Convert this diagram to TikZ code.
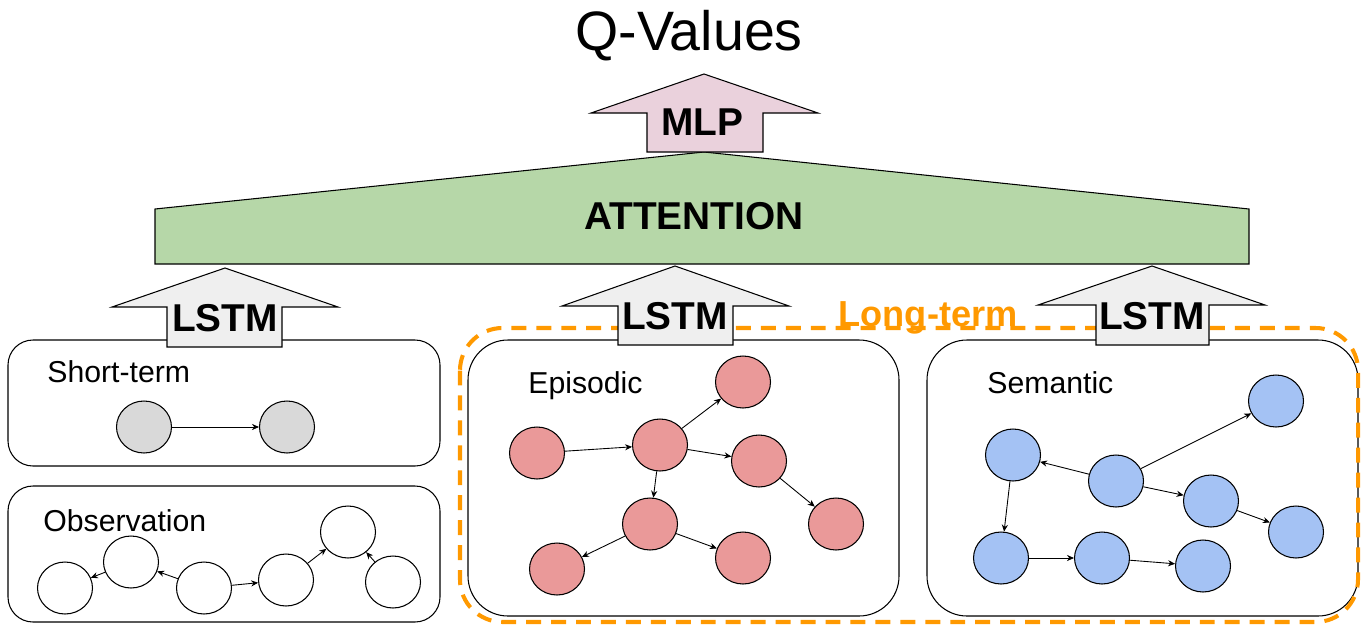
\documentclass[tikz,border=0pt]{standalone}
\usepackage{fontspec}
\setmainfont{Liberation Sans}
\usetikzlibrary{shapes.geometric,arrows.meta}

\definecolor{attgreen}{HTML}{B6D7A8}
\definecolor{mlppink}{HTML}{EAD1DC}
\definecolor{lstmgrey}{HTML}{EFEFEF}
\definecolor{stgrey}{HTML}{D9D9D9}
\definecolor{epired}{HTML}{EA9999}
\definecolor{semblue}{HTML}{A4C2F4}
\definecolor{ltorange}{HTML}{FF9900}

\begin{document}
\begin{tikzpicture}[x=0.02cm,y=-0.02cm,
  mem/.style={draw,ellipse,minimum width=1.1cm,minimum height=1.04cm,inner sep=0pt,line width=0.6pt},
  link/.style={-{Stealth[length=4pt,width=3.5pt]},line width=0.5pt},
  memorybox/.style={draw,fill=white,line width=0.6pt},
  blk/.style={draw,line width=0.6pt},
  lbl/.style={font=\fontsize{22.1}{26}\selectfont\bfseries,anchor=base,inner sep=0pt},
  boxtitle/.style={font=\fontsize{17.2}{20}\selectfont,anchor=base west,inner sep=0pt}]
  \useasboundingbox (0,0) rectangle (1364,629);

  % memory boxes
  \draw[memorybox,rounded corners=0.5cm] (8,340) rectangle (440,466);
  \draw[memorybox,rounded corners=0.5cm] (8,486) rectangle (440,622);
  \draw[memorybox,rounded corners=0.8cm] (468,340) rectangle (899,616);
  \draw[memorybox,rounded corners=0.8cm] (927,340) rectangle (1358,616);
  \draw[ltorange,line width=2.3pt,dash pattern=on 8.5pt off 5.7pt,rounded corners=0.85cm] (460,328) rectangle (1358,622);

  % attention and block arrows
  \draw[blk,fill=attgreen] (155,209) -- (704,152) -- (1249,209) -- (1249,264) -- (155,264) -- cycle;
  \draw[blk,fill=mlppink] (704,74) -- (818,113) -- (763,113) -- (763,152) -- (647,152) -- (647,113) -- (591,113) -- cycle;
  \draw[blk,fill=lstmgrey] (225,268) -- (338,307) -- (282,307) -- (282,347) -- (167,347) -- (167,307) -- (112,307) -- cycle;
  \draw[blk,fill=lstmgrey] (675,266) -- (789,306) -- (733,306) -- (733,345) -- (618,345) -- (618,306) -- (562,306) -- cycle;
  \draw[blk,fill=lstmgrey] (1152,266) -- (1265,305) -- (1209,305) -- (1209,345) -- (1096,345) -- (1096,305) -- (1038,305) -- cycle;

  \node[font=\fontsize{31.6}{36}\selectfont,anchor=base,inner sep=0pt] (qval) at (689,50) {Q-Values};
  \node[lbl] (att) at (694,229) {ATTENTION};
  \node[lbl] (mlp) at (702,135) {MLP};
  \node[lbl] (lstmst) at (225,331) {LSTM};
  \node[lbl] (lstmepi) at (675,329) {LSTM};
  \node[lbl] (lstmsem) at (1152,329) {LSTM};
  \node[lbl,font=\fontsize{20.6}{24}\selectfont\bfseries,text=ltorange] (longterm) at (928,326) {Long-term};

  \node[boxtitle] (shortterm) at (47,382) {Short-term};
  \node[boxtitle] (observation) at (43,531) {Observation};
  \node[boxtitle] (episodic) at (528,393) {Episodic};
  \node[boxtitle] (semantic) at (987,393) {Semantic};

  % short-term
  \node[mem,fill=stgrey] (g1) at (144,427) {};
  \node[mem,fill=stgrey] (g2) at (287,427) {};
  \draw[link] (g1) -- (g2);

  % observation
  \node[mem,fill=white] (o1) at (65,588) {};
  \node[mem,fill=white] (o2) at (131,562) {};
  \node[mem,fill=white] (o3) at (204,588) {};
  \node[mem,fill=white] (o4) at (286,580) {};
  \node[mem,fill=white] (o5) at (348,532) {};
  \node[mem,fill=white] (o6) at (393,582) {};
  \foreach \a/\b in {o2/o1,o3/o2,o3/o4,o4/o5,o6/o5}
    \draw[link] (\a) -- (\b);

  % episodic
  \node[mem,fill=epired] (e1) at (537,453) {};
  \node[mem,fill=epired] (e2) at (660,445) {};
  \node[mem,fill=epired] (e3) at (743,382) {};
  \node[mem,fill=epired] (e4) at (759,461) {};
  \node[mem,fill=epired] (e5) at (836,524) {};
  \node[mem,fill=epired] (e6) at (650,524) {};
  \node[mem,fill=epired] (e7) at (557,569) {};
  \node[mem,fill=epired] (e8) at (743,558) {};
  \foreach \a/\b in {e1/e2,e2/e3,e2/e4,e4/e5,e2/e6,e6/e7,e6/e8}
    \draw[link] (\a) -- (\b);

  % semantic
  \node[mem,fill=semblue] (s1) at (1013,455) {};
  \node[mem,fill=semblue] (s2) at (1116,481) {};
  \node[mem,fill=semblue] (s3) at (1276,401) {};
  \node[mem,fill=semblue] (s4) at (1211,501) {};
  \node[mem,fill=semblue] (s5) at (1296,532) {};
  \node[mem,fill=semblue] (s6) at (1001,558) {};
  \node[mem,fill=semblue] (s7) at (1102,558) {};
  \node[mem,fill=semblue] (s8) at (1203,566) {};
  \foreach \a/\b in {s2/s1,s2/s3,s2/s4,s4/s5,s1/s6,s6/s7,s7/s8}
    \draw[link] (\a) -- (\b);
\end{tikzpicture}
\end{document}
